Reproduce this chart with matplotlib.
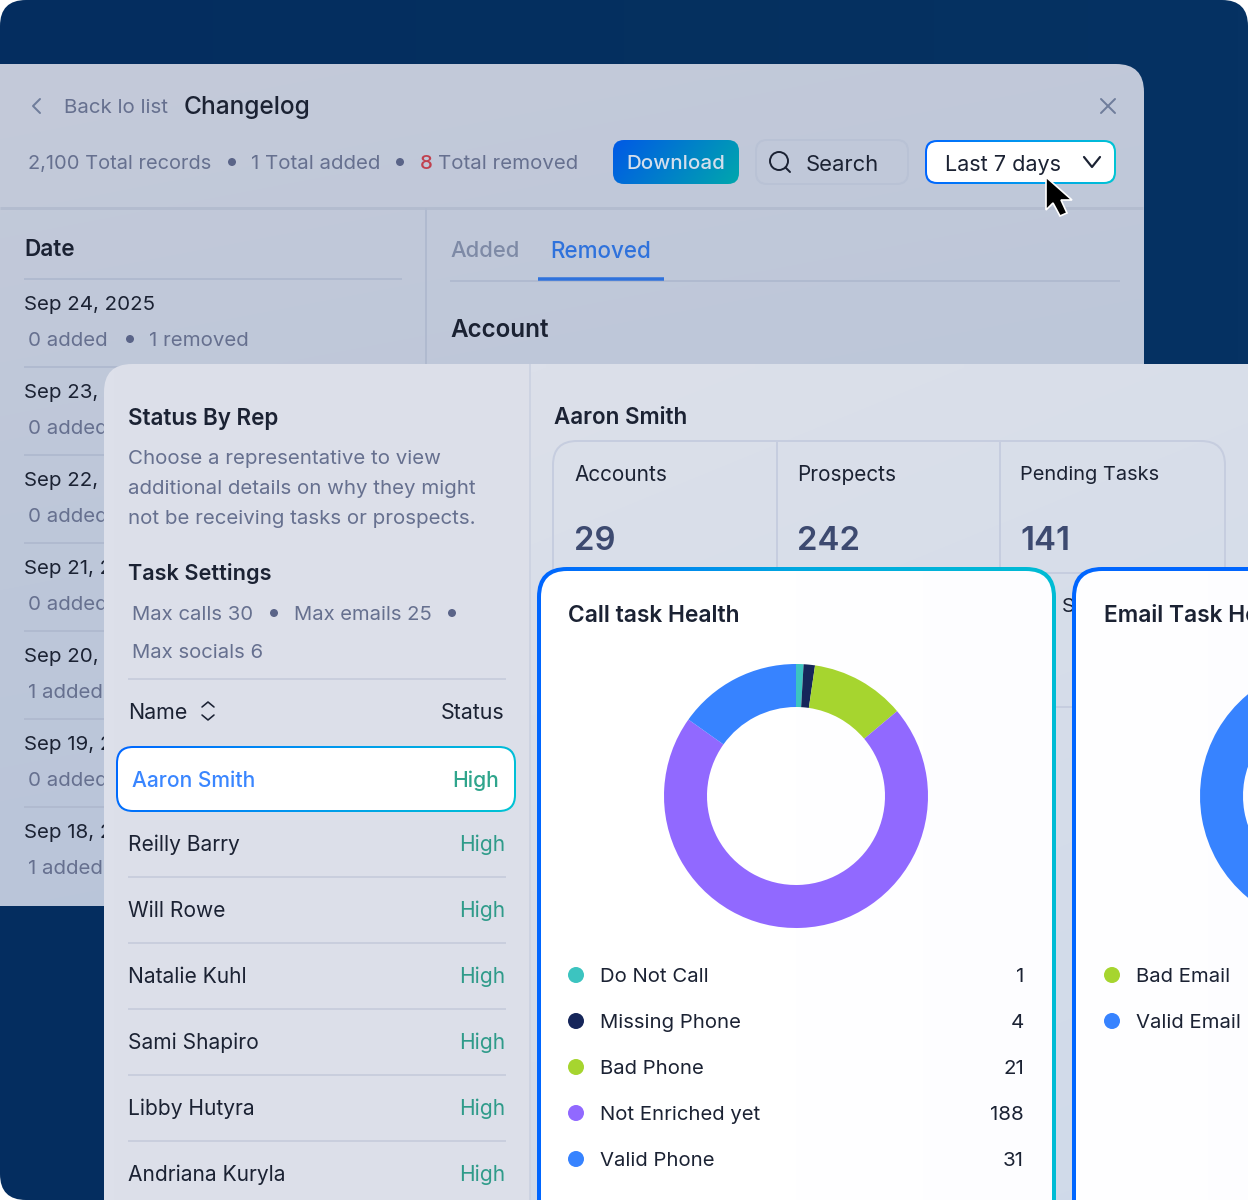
# -*- coding: utf-8 -*-
import numpy as np
import matplotlib
matplotlib.use("Agg")
import matplotlib.pyplot as plt
from matplotlib.colors import LinearSegmentedColormap
from matplotlib.patches import Circle, FancyBboxPatch, Polygon

plt.rcParams["font.family"] = ["Inter", "DejaVu Sans"]

W, H = 1248, 1200

INK = "#1b2233"
MUTE = "#66708f"
LINE1 = "#b0bacf"
LINE2 = "#c9cedd"
BLUE = "#3a86ff"
TEAL = "#2f9b8a"

# Changelog panel, the status panel hides the end of all dates but the first
date_labels = ["Sep 24, 2025", "Sep 23, 2", "Sep 22, 2", "Sep 21, 2",
               "Sep 20, 2", "Sep 19, 2", "Sep 18, 2"]
date_added = ["0 added", "0 added", "0 added", "0 added", "1 added", "0 added", "1 added"]

# Status by rep
rep_names = ["Reilly Barry", "Will Rowe", "Natalie Kuhl", "Sami Shapiro",
             "Libby Hutyra", "Andriana Kuryla"]
rep_status = ["High", "High", "High", "High", "High", "High"]

# Summary tiles
tile_labels = ["Accounts", "Prospects", "Pending Tasks"]
tile_sizes = [20.8, 20.8, 20]
tile_values = ["29", "242", "141"]

# Call task donut. The ring in the picture is not drawn in proportion to the
# printed counts, so the arcs (degrees) are read off the ring separately.
call_labels = ["Do Not Call", "Missing Phone", "Bad Phone", "Not Enriched yet", "Valid Phone"]
call_counts = [1, 4, 21, 188, 31]
call_arcs = [3.3, 5.0, 41.7, 255.4, 54.6]
call_colors = ["#3cc4c0", "#16265a", "#a6d52f", "#9169ff", "#3783ff"]

# Email task donut, only its blue left side is in frame
email_labels = ["Bad Email", "Valid Email"]
email_arcs = [40, 320]
email_colors = ["#a6d52f", "#3783ff"]

fig = plt.figure(figsize=(W / 100, H / 100), dpi=100, facecolor="white")
ax = fig.add_axes([0, 0, 1, 1])
ax.set_xlim(0, W)
ax.set_ylim(H, 0)
ax.set_autoscale_on(False)
ax.axis("off")


def box(x, y, w, h, r, fc="none", ec="none", lw=0, z=1):
    p = FancyBboxPatch((x, y), w, h, boxstyle=f"round,pad=0,rounding_size={r}",
                       fc=fc, ec=ec, lw=lw * 0.72, zorder=z)
    ax.add_patch(p)
    return p


def grad(x, y, w, h, r, colors, angle=0, z=1):
    # gradient filled rounded box; angle 0 runs left to right, 90 top to bottom
    p = box(x, y, w, h, r, z=z)
    u, v = np.meshgrid(np.linspace(0, 1, 128), np.linspace(0, 1, 128))
    a = np.deg2rad(angle)
    t = u * np.cos(a) + v * np.sin(a)
    cmap = LinearSegmentedColormap.from_list("g", colors)
    im = ax.imshow(t, extent=(x, x + w, y + h, y), cmap=cmap, aspect="auto",
                   zorder=z, interpolation="bilinear")
    im.set_clip_path(p)


def txt(x, y, s, px=20.5, color=INK, weight="normal", ha="left", z=2):
    # bigger sizes sit a pixel low with this vertical alignment
    if px >= 21.5:
        y -= 1
    ax.text(x, y, s, fontsize=px * 0.72, color=color, fontweight=weight,
            ha=ha, va="center_baseline", zorder=z)


def hline(x0, x1, y, color=LINE1, lw=2, z=2):
    ax.plot([x0, x1], [y, y], color=color, lw=lw * 0.72, zorder=z, solid_capstyle="butt")


def vline(x, y0, y1, color=LINE1, lw=2, z=2):
    ax.plot([x, x], [y0, y1], color=color, lw=lw * 0.72, zorder=z, solid_capstyle="butt")


def dot(x, y, r, color, z=2):
    ax.add_patch(Circle((x, y), r, fc=color, ec="none", zorder=z))


def stroke(xs, ys, color, lw=2, z=2):
    ax.plot(xs, ys, color=color, lw=lw * 0.72, zorder=z,
            solid_capstyle="round", solid_joinstyle="round")


def donut(cx, cy, arcs, colors):
    a = fig.add_axes([(cx - 132) / W, 1 - (cy + 132) / H, 264 / W, 264 / H])
    a.pie(arcs, colors=colors, startangle=90, counterclock=False, radius=1,
          wedgeprops=dict(width=43 / 132, linewidth=0))
    a.set_xlim(-1, 1)
    a.set_ylim(-1, 1)
    a.patch.set_alpha(0)
    a.axis("off")


# ── backdrop ──
grad(0, 0, W, H, 26, ["#042d60", "#05305f", "#063263"], angle=0, z=0)

# ── changelog panel ──
grad(-40, 64, 1184, 842, 28, ["#c4cad9", "#bdc7da", "#b8c4d9"], angle=75, z=1)

stroke([40, 33, 40], [99, 106, 113], "#6f7d9b")
txt(64, 106, "Back lo list", color=MUTE)
txt(184, 106, "Changelog", px=24.5, weight="medium")
stroke([1101, 1115], [99, 113], "#6f7d9b")
stroke([1115, 1101], [99, 113], "#6f7d9b")

txt(28, 162, "2,100 Total records", px=20, color=MUTE)
dot(232, 162, 4, "#5a6488")
txt(251, 162, "1 Total added", color=MUTE)
dot(400, 162, 4, "#5a6488")
txt(420, 162, "8", color="#c0414f", weight="medium")
txt(438, 162, "Total removed", px=20.4, color=MUTE)

grad(613, 140, 126, 44, 11, ["#0059e6", "#00a7ad"], angle=15, z=2)
txt(676, 162, "Download", color="#d3deec", ha="center", weight="medium", z=3)
box(756, 140, 152, 44, 11, ec="#b9c2d5", lw=2, z=2)
ax.add_patch(Circle((779, 161), 9, fc="none", ec=INK, lw=1.4, zorder=3))
stroke([785.5, 790], [167.5, 172], INK, z=3)
txt(806, 164, "Search", px=22, color=INK, z=3)
grad(925, 140, 191, 44, 12, ["#0066ff", "#0096f0", "#00c4d4"], angle=0, z=2)
box(927, 142, 187, 40, 10, fc="white", z=3)
txt(945, 164, "Last 7 days", px=21.6, color=INK, z=4)
stroke([1084, 1092, 1100], [157, 167, 157], INK, lw=2.2, z=4)
ax.add_patch(Polygon([(1046, 177), (1046, 210), (1053, 203), (1060, 216), (1067, 213),
                      (1061, 200), (1072, 200)], closed=True, fc="black", ec="white",
                     lw=1.2, zorder=4, joinstyle="miter"))

hline(0, 1143, 208, lw=3, color="#b3bccf")
vline(426, 208, 364)

txt(24, 249, "Date", px=22.5, weight="semibold")
hline(24, 402, 279)
for i, (d, a) in enumerate(zip(date_labels, date_added)):
    y = 303 + 88 * i
    txt(24, y, d, color=INK)
    txt(28, y + 36, a, color=MUTE)
    if i < len(date_labels) - 1:
        hline(24, 402, y + 64)
dot(130, 339, 4, "#5a6488")
txt(149, 339, "1 removed", color=MUTE)

txt(450, 250, "Added", px=22, color="#7e8aa6", weight="medium")
txt(550, 250, "Removed", px=22.4, color="#2f72dc", weight="medium")
hline(450, 1120, 281)
hline(538, 664, 278.5, color="#2f72dc", lw=3.5, z=3)
txt(450, 329, "Account", px=24.2, weight="semibold")

# ── status panel ──
grad(104, 364, 1250, 900, 28, ["#dde0ea", "#dbdfe9"], angle=0, z=5)
grad(531, 364, 800, 900, 0, ["#dce0ea", "#ced9e9"], angle=70, z=5)
vline(529.5, 364, 1200, color="#cdd3e2", z=6)

txt(128, 417, "Status By Rep", px=22.4, weight="semibold", z=6)
for i, s in enumerate(["Choose a representative to view",
                       "additional details on why they might",
                       "not be receiving tasks or prospects."]):
    txt(128, 457 + 30 * i, s, px=20.5, color=MUTE, z=6)
txt(128, 573, "Task Settings", px=21.7, weight="semibold", z=6)
txt(132, 613, "Max calls 30", px=20.3, color=MUTE, z=6)
dot(274, 613, 4, "#5a6488", z=6)
txt(294, 613, "Max emails 25", px=20.2, color=MUTE, z=6)
dot(452, 613, 4, "#5a6488", z=6)
txt(132, 651, "Max socials 6", px=20.3, color=MUTE, z=6)
hline(128, 506, 679, color=LINE2, z=6)

txt(128, 711, "Name", px=21.4, z=6)
stroke([202, 208, 214], [707, 702, 707], INK, lw=1.6, z=6)
stroke([202, 208, 214], [715, 720, 715], INK, lw=1.6, z=6)
txt(504, 711, "Status", px=21.4, ha="right", z=6)

grad(116, 746, 400, 66, 17, ["#0066ff", "#0098ee", "#00c4d4"], angle=5, z=6)
box(118, 748, 396, 62, 15, fc="white", z=6)
txt(132, 779, "Aaron Smith", px=21, color=BLUE, weight="medium", z=7)
txt(499, 779, "High", px=21, color="#2fa58c", weight="medium", ha="right", z=7)

for i, (n, s) in enumerate(zip(rep_names, rep_status)):
    y = 843 + 66 * i
    txt(128, y, n, px=21, z=6)
    txt(505, y, s, px=21, color=TEAL, ha="right", z=6)
    if i < len(rep_names) - 1:
        hline(128, 506, y + 34, color=LINE2, z=6)

txt(554, 417, "Aaron Smith", px=22.4, weight="semibold", z=6)
box(553, 441, 672, 900, 24, ec="#c6cddf", lw=2, z=6)
hline(553, 1225, 573, color="#c6cddf", z=6)
hline(553, 1248, 707, color="#c6cddf", z=6)
vline(777, 441, 707, color="#c6cddf", z=6)
vline(1000, 441, 707, color="#c6cddf", z=6)
for x, lab, sz, val in zip([574, 797, 1020], tile_labels, tile_sizes, tile_values):
    txt(x, 473, lab, px=sz, z=6)
    txt(x, 539, val, px=33, color="#3d4a70", weight="semibold", z=6)
txt(1062, 605, "S", z=6)

# ── task cards ──
grad(537, 567, 519, 700, 30, ["#0066ff", "#00a8e0", "#00bcd4"], angle=0, z=7)
grad(541, 571, 511, 692, 26, ["#ffffff", "#ffffff", "#fdfdff"], angle=0, z=7)
grad(1072, 567, 400, 700, 30, ["#0066ff", "#0068ff"], angle=0, z=7)
grad(1076, 571, 392, 692, 26, ["#ffffff", "#fcfcff"], angle=0, z=7)

txt(568, 615, "Call task Health", px=22.8, weight="semibold", z=8)
txt(1104, 615, "Email Task Health", px=22.8, weight="semibold", z=8)

for i, (lab, cnt, col) in enumerate(zip(call_labels, call_counts, call_colors)):
    y = 975 + 46 * i
    dot(576, y, 8, col, z=8)
    txt(600, y, lab, px=20.3, z=8)
    txt(1024, y, str(cnt), ha="right", z=8)
for i, (lab, col) in enumerate(zip(email_labels, email_colors)):
    y = 975 + 46 * i
    dot(1112, y, 8, col, z=8)
    txt(1136, y, lab, px=20.3, z=8)

donut(796, 796, call_arcs, call_colors)
donut(1332, 796, email_arcs, email_colors)

ax.set_xlim(0, W)
ax.set_ylim(H, 0)
fig.savefig("out.png", dpi=100)
